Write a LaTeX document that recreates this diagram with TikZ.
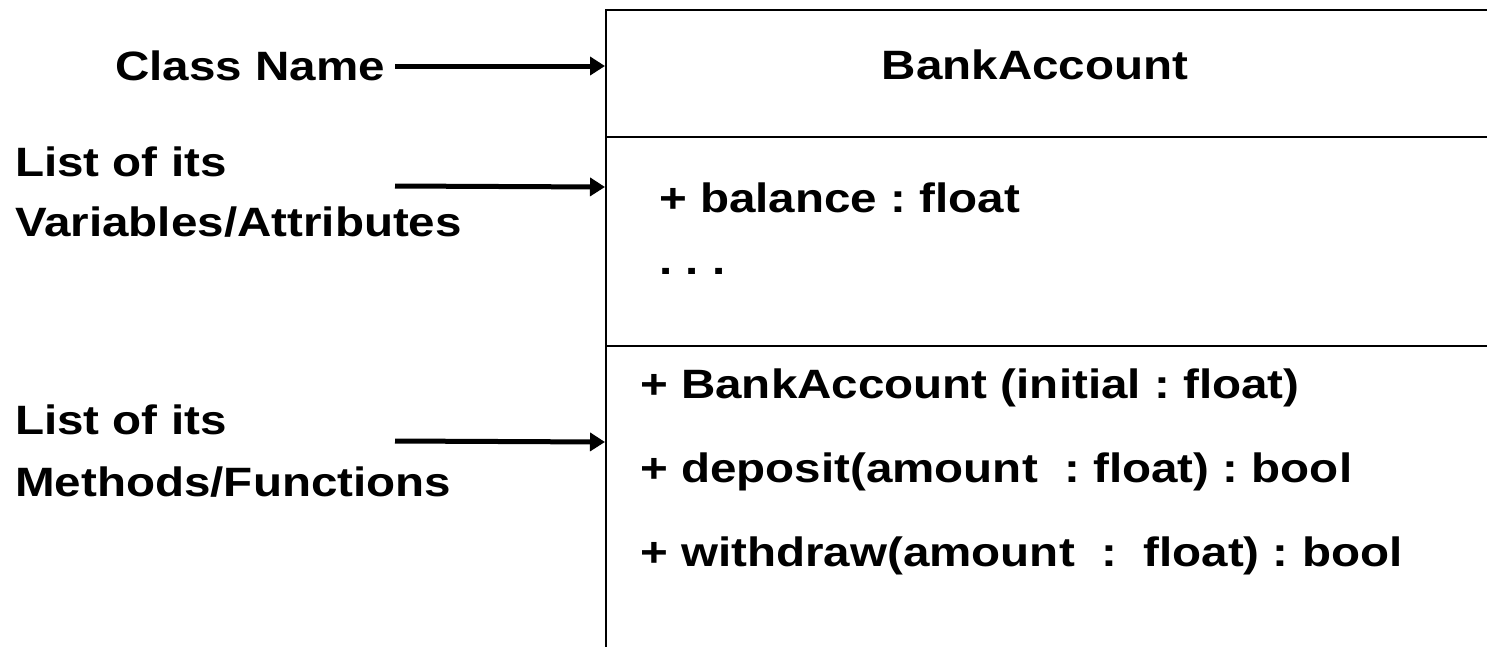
\documentclass[tikz,border=0pt]{standalone}
\usepackage{fontspec}
\setmainfont[FakeStretch=1.16]{Liberation Sans}
\usetikzlibrary{arrows.meta}
\tikzset{
  lbl/.style={anchor=base west, inner sep=0pt, font=\fontsize{41}{48}\selectfont\bfseries\frenchspacing},
  ptr/.style={line width=5pt, -{Triangle[length=15pt,width=18pt]}},
  boxline/.style={line width=2.2pt, line cap=rect}
}
\begin{document}
\frenchspacing
\begin{tikzpicture}[x=1pt,y=-1pt]
\useasboundingbox (0,0) rectangle (1487,646);
% box geometry
\coordinate (tl) at (606,10);
\coordinate (tr) at (1490,10);
\coordinate (bl) at (606,650);
\coordinate (m1l) at (606,137);
\coordinate (m1r) at (1490,137);
\coordinate (m2l) at (606,346);
\coordinate (m2r) at (1490,346);
\draw[boxline] (tr) -- (tl) -- (bl);
\draw[boxline] (m1l) -- (m1r);
\draw[boxline] (m2l) -- (m2r);
% class texts
\node[lbl, anchor=base] (cname) at (1035,79) {BankAccount};
\node[lbl] (attr1) at (659,212) {+ balance : float};
\node[lbl] (attr2) at (659,274) {. . .};
\node[lbl] (meth1) at (640,398) {+ BankAccount (initial : float)};
\node[lbl] (meth2) at (640,482) {+ deposit(amount\ \ : float) : bool};
\node[lbl] (meth3) at (640,566) {+ withdraw(amount\ \ :\ \ float) : bool};
% left labels
\node[lbl] (lab1) at (115,80) {Class Name};
\node[lbl] (lab2a) at (15,176) {List of its};
\node[lbl] (lab2b) at (15,236) {Variables/Attributes};
\node[lbl] (lab3a) at (15,434) {List of its};
\node[lbl] (lab3b) at (15,496) {Methods/Functions};
% arrows
\coordinate (a1s) at (395,66);
\coordinate (a1e) at (605,66);
\coordinate (a2s) at (395,186);
\coordinate (a2e) at (605,187);
\coordinate (a3s) at (395,441);
\coordinate (a3e) at (605,442);
\draw[ptr] (a1s) -- (a1e);
\draw[ptr] (a2s) -- (a2e);
\draw[ptr] (a3s) -- (a3e);
\end{tikzpicture}
\end{document}
